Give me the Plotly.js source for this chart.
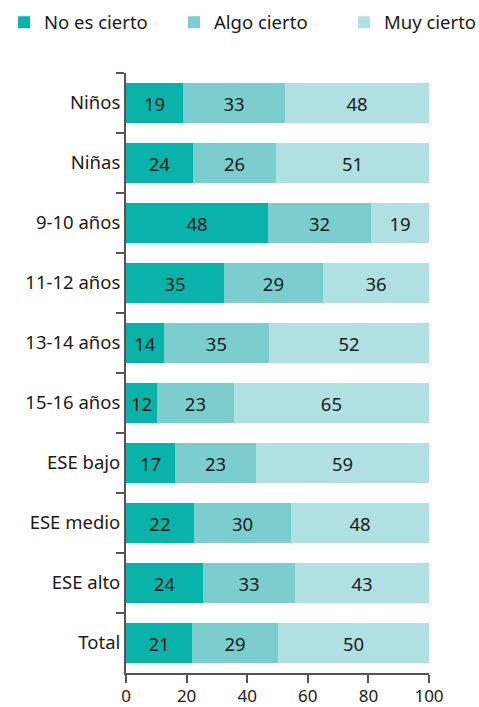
<!DOCTYPE html>
<html>
<head>
<meta charset="utf-8">
<script src="https://cdn.plot.ly/plotly-3.0.1.min.js"></script>
<style>html,body{margin:0;padding:0;background:#fff;}#chart{width:479px;height:707px;}</style>
</head>
<body>
<div id="chart"></div>
<script>
// Categories (top to bottom)
var categories = ["Niños", "Niñas", "9-10 años", "11-12 años", "13-14 años", "15-16 años", "ESE bajo", "ESE medio", "ESE alto", "Total"];
// Segment lengths as drawn (percent)
var noEsCierto = [18.8, 22.1, 46.9, 32.3, 12.5, 10.2, 16.2, 22.4, 25.4, 21.8];
var algoCierto = [33.7, 27.4, 34.0, 32.7, 34.7, 25.4, 26.7, 32.1, 30.4, 28.4];
var muyCierto  = [47.5, 50.5, 19.1, 35.0, 52.8, 64.4, 57.1, 45.5, 44.2, 49.8];
// Printed labels
var noEsCiertoLabels = ["19", "24", "48", "35", "14", "12", "17", "22", "24", "21"];
var algoCiertoLabels = ["33", "26", "32", "29", "35", "23", "23", "30", "33", "29"];
var muyCiertoLabels  = ["48", "51", "19", "36", "52", "65", "59", "48", "43", "50"];
var seriesNames = ["No es cierto", "Algo cierto", "Muy cierto"];
var xTicks = [0, 20, 40, 60, 80, 100];

var FONT = "Noto Sans, sans-serif";
var FS = 18.5;
var colors = ["#0ab3aa", "#7bcdce", "#b1e0e2"];
var axisColor = "#5a5252";
var txtColor = "#1a1a1a";

function mk(name, vals, labels, color, leg) {
  return {
    type: "bar", orientation: "h", name: name, legend: leg,
    y: categories, x: vals, text: labels,
    textposition: "inside", insidetextanchor: "middle", textangle: 0,
    constraintext: "none",
    textfont: {family: FONT, size: FS, color: txtColor},
    insidetextfont: {family: FONT, size: FS, color: txtColor},
    marker: {color: color, line: {width: 0}},
    hoverinfo: "skip"
  };
}

var data = [
  mk(seriesNames[0], noEsCierto, noEsCiertoLabels, colors[0], "legend"),
  mk(seriesNames[1], algoCierto, algoCiertoLabels, colors[1], "legend2"),
  mk(seriesNames[2], muyCierto, muyCiertoLabels, colors[2], "legend3")
];

function legendAt(x) {
  return {
    orientation: "h", x: x, xanchor: "left", y: 1.084, yanchor: "middle",
    font: {family: FONT, size: FS, color: txtColor},
    itemclick: false, itemdoubleclick: false, bgcolor: "rgba(0,0,0,0)"
  };
}

var layout = {
  width: 479, height: 707,
  margin: {l: 126, r: 50, t: 73, b: 34, pad: 0, autoexpand: false},
  paper_bgcolor: "#fff", plot_bgcolor: "#fff",
  barmode: "stack", bargap: 0.32,
  font: {family: FONT, size: FS, color: txtColor},
  showlegend: true,
  legend: legendAt(-0.4026),
  legend2: legendAt(0.1584),
  legend3: legendAt(0.7195),
  xaxis: {
    range: [0, 100], tickvals: xTicks, ticktext: xTicks.map(String),
    showgrid: false, zeroline: false,
    showline: true, linecolor: axisColor, linewidth: 2,
    ticks: "outside", ticklen: 8, tickwidth: 2, tickcolor: axisColor,
    tickfont: {family: FONT, size: 17, color: txtColor},
    ticklabelstandoff: -1,
    fixedrange: true
  },
  yaxis: {
    type: "category", range: [9.5, -0.5], autorange: false,
    showgrid: false, zeroline: false,
    showline: true, linecolor: axisColor, linewidth: 2,
    ticks: "outside", tickson: "boundaries", ticklen: 8, tickwidth: 2, tickcolor: axisColor,
    tickfont: {family: FONT, size: FS, color: txtColor},
    fixedrange: true
  }
};

Plotly.newPlot("chart", data, layout, {displayModeBar: false, staticPlot: true});
</script>
</body>
</html>
